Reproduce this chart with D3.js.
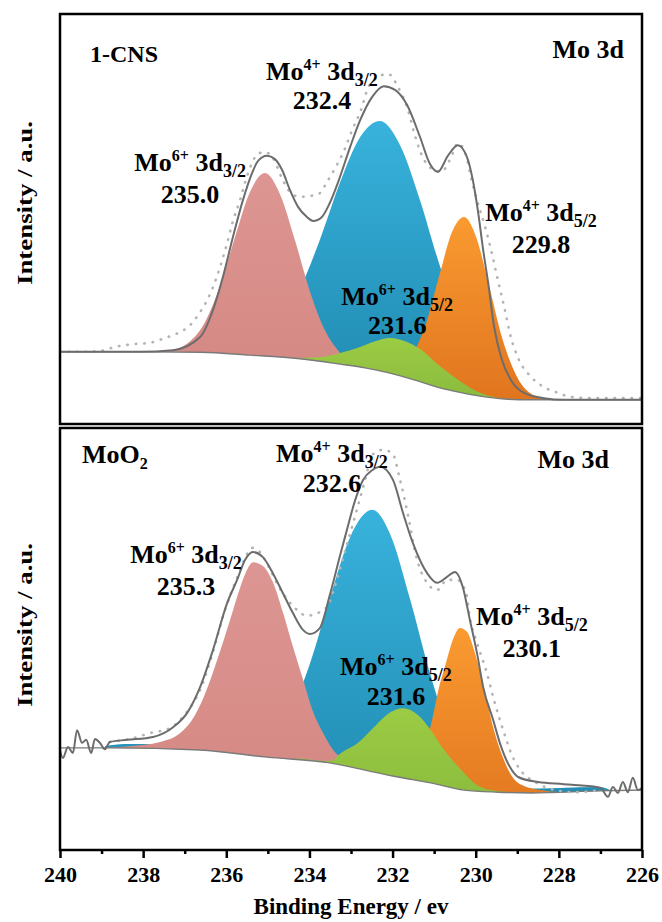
<!DOCTYPE html>
<html>
<head>
<meta charset="utf-8">
<script src="https://cdn.jsdelivr.net/npm/d3@7"></script>
<style>
body{margin:0;background:#fff;}
svg{display:block;font-family:"Liberation Serif","Times New Roman",serif;font-weight:bold;}
</style>
</head>
<body>
<div id="chart"></div>
<script>
/* Mo 3d XPS, two stacked panels (1-CNS on top, MoO2 below).
   Values are [binding energy (eV), intensity (a.u., 0-100 per panel)]. */

// ---- 1-CNS ----
const CNS_BG = [[240.00,17.6],[237.84,17.6],[236.63,17.5],[235.43,16.8],[234.23,15.9],[233.26,14.6],[232.66,13.7],[232.06,12.4],[231.46,10.7],[230.86,8.8],[230.38,7.7],[229.90,6.8],[229.30,6.1],[228.69,5.9],[226.00,5.9]];
const CNS_MO6_32 = [[237.76,17.6],[237.35,18.0],[236.87,20.2],[236.51,24.9],[236.15,33.7],[235.79,45.6],[235.43,56.6],[235.07,61.2],[234.71,56.1],[234.35,44.9],[233.99,32.4],[233.63,22.9],[233.26,17.3],[232.90,14.1]];
const CNS_MO4_32 = [[235.19,20.0],[234.71,24.6],[234.23,32.9],[233.75,44.9],[233.26,59.0],[232.78,70.0],[232.30,73.9],[231.82,68.0],[231.34,54.6],[230.86,38.5],[230.38,24.9],[229.90,15.1],[229.42,9.8],[228.93,7.2],[228.33,6.0]];
const CNS_MO6_52 = [[234.54,16.1],[233.75,16.3],[233.26,17.3],[232.78,18.8],[232.42,20.2],[232.06,21.0],[231.70,20.2],[231.34,18.3],[230.86,14.1],[230.45,11.0],[230.07,8.5],[229.66,6.8],[229.18,6.1]];
const CNS_MO4_52 = [[231.58,15.9],[231.22,23.7],[230.86,36.8],[230.57,46.8],[230.28,50.5],[229.99,45.6],[229.70,34.6],[229.34,20.2],[228.98,11.0],[228.62,7.1],[228.26,6.0]];
const CNS_FIT = [[240.00,17.6],[238.08,17.6],[237.28,18.0],[236.63,21.2],[236.32,27.8],[236.08,35.9],[235.84,45.6],[235.60,54.6],[235.38,61.2],[235.24,64.1],[235.02,65.4],[234.83,64.6],[234.66,62.0],[234.47,57.1],[234.27,52.9],[234.06,50.5],[233.91,49.5],[233.70,50.5],[233.51,53.9],[233.31,59.0],[233.02,67.6],[232.78,74.1],[232.49,79.8],[232.21,82.4],[231.94,81.5],[231.65,77.8],[231.34,70.0],[231.10,63.4],[230.91,61.5],[230.67,65.4],[230.43,68.0],[230.21,65.1],[230.07,59.5],[229.94,51.5],[229.82,42.4],[229.70,34.4],[229.56,23.9],[229.39,16.3],[229.15,10.7],[228.84,7.6],[228.36,6.3],[227.88,5.9],[226.00,5.9]];
const CNS_RAW = [[240.00,17.6],[239.52,17.6],[239.04,17.8],[238.68,18.8],[238.20,19.5],[237.84,19.8],[237.47,21.0],[237.16,22.2],[236.87,24.1],[236.63,27.3],[236.46,30.2],[236.32,33.4],[236.15,38.3],[235.98,44.1],[235.84,49.5],[235.67,54.6],[235.53,59.5],[235.38,63.7],[235.24,65.9],[235.07,66.3],[234.88,64.9],[234.64,59.5],[234.47,56.6],[234.23,55.4],[233.99,55.6],[233.75,56.3],[233.58,59.0],[233.38,62.4],[233.14,67.3],[232.98,71.5],[232.76,76.6],[232.59,82.0],[232.42,84.1],[232.11,85.4],[231.87,82.2],[231.63,76.6],[231.48,71.0],[231.32,66.1],[231.08,62.4],[230.83,61.5],[230.59,65.1],[230.43,68.5],[230.23,65.4],[230.11,60.0],[229.97,54.6],[229.78,48.3],[229.63,42.4],[229.49,36.1],[229.32,28.8],[229.15,21.0],[228.98,16.1],[228.67,11.5],[228.36,9.0],[228.02,7.6],[227.71,6.6],[227.25,6.3],[226.00,6.3]];
const CNS_PEAKS = ["235.0","232.4","231.6","229.8"];

// ---- MoO2 ----
const MOO2_BG = [[240.00,24.2],[238.80,24.2],[236.63,23.7],[235.02,22.0],[233.48,20.6],[232.69,19.0],[231.87,17.3],[231.08,15.9],[230.28,14.2],[229.46,13.7],[228.67,13.5],[227.01,14.0],[226.00,14.2]];
const MOO2_MO6_32 = [[238.92,24.2],[238.32,24.6],[237.59,25.6],[237.11,27.7],[236.75,32.0],[236.51,37.0],[236.22,45.0],[235.91,54.5],[235.67,62.1],[235.50,66.4],[235.36,68.2],[235.12,67.3],[234.88,63.5],[234.64,56.4],[234.40,48.3],[234.15,40.3],[233.91,32.7],[233.67,27.7],[233.43,23.7],[233.14,21.3],[232.78,19.4]];
const MOO2_MO4_32 = [[238.92,24.6],[238.44,25.1],[237.96,25.1],[237.35,24.6],[236.63,24.2],[235.43,23.9],[234.95,26.3],[234.47,32.5],[233.99,44.1],[233.51,59.7],[233.02,74.2],[232.49,80.6],[232.06,74.9],[231.58,59.5],[231.10,41.9],[230.62,27.5],[230.14,19.4],[229.66,15.4],[228.93,14.5],[227.97,14.7],[227.01,14.9],[226.77,14.2]];
const MOO2_MO6_52 = [[234.30,21.8],[233.48,21.1],[233.24,23.0],[232.83,25.4],[232.45,29.1],[232.04,32.7],[231.75,33.6],[231.39,32.0],[231.08,28.4],[230.76,23.7],[230.35,19.0],[230.04,15.9],[229.63,14.2],[229.15,13.7]];
const MOO2_MO4_52 = [[231.58,17.8],[231.22,24.9],[231.05,30.8],[230.91,37.4],[230.71,44.5],[230.55,49.8],[230.38,52.6],[230.21,51.7],[230.04,47.4],[229.80,38.4],[229.56,28.4],[229.34,21.8],[229.13,17.5],[228.89,15.4],[228.45,14.2],[227.97,13.7]];
const MOO2_FIT = [[240.00,23.7],[239.93,21.8],[239.81,24.4],[239.69,23.0],[239.59,28.4],[239.47,25.4],[239.37,26.1],[239.25,23.0],[239.16,26.3],[239.04,25.4],[238.92,23.9],[238.80,25.6],[238.39,26.1],[237.76,26.8],[237.28,29.1],[236.94,32.5],[236.63,38.6],[236.32,47.4],[235.98,58.5],[235.74,64.0],[235.55,68.7],[235.36,70.6],[235.12,69.4],[234.88,65.6],[234.64,60.9],[234.40,56.2],[234.15,52.1],[233.99,51.2],[233.75,52.6],[233.51,60.4],[233.26,69.9],[233.10,75.8],[232.90,82.9],[232.71,87.7],[232.49,90.0],[232.30,90.8],[231.99,87.7],[231.75,79.9],[231.51,72.7],[231.17,65.6],[230.93,63.3],[230.69,64.7],[230.50,65.9],[230.31,62.3],[230.14,54.5],[229.97,46.7],[229.82,38.6],[229.58,30.8],[229.42,25.4],[229.18,19.7],[228.98,17.3],[228.50,16.1],[227.88,15.6],[227.06,14.9],[226.99,14.7],[226.82,12.6],[226.70,14.9],[226.58,13.5],[226.46,16.1],[226.34,13.7],[226.22,17.1],[226.10,14.2],[226.00,14.7]];
const MOO2_RAW = [[238.80,25.6],[238.32,26.3],[237.84,27.7],[237.35,28.9],[236.99,32.2],[236.63,37.9],[236.32,46.9],[236.03,56.9],[235.79,63.3],[235.57,68.7],[235.38,71.6],[235.19,70.6],[235.00,67.5],[234.76,62.8],[234.52,59.2],[234.30,56.9],[234.06,55.5],[233.87,55.9],[233.58,57.6],[233.34,64.0],[233.10,72.3],[232.86,80.6],[232.66,87.7],[232.49,93.6],[232.25,94.8],[232.01,94.1],[231.82,87.7],[231.63,79.4],[231.44,69.9],[231.17,63.3],[230.93,61.6],[230.69,64.0],[230.45,64.0],[230.23,60.9],[230.14,55.0],[229.97,49.1],[229.73,41.9],[229.56,35.5],[229.34,28.4],[229.13,22.5],[228.89,18.5],[228.57,16.1],[228.09,14.2],[227.61,13.7],[227.01,14.2]];
const MOO2_PEAKS = ["235.3","232.6","231.6","230.1"];

// peak order: Mo6+ 3d3/2, Mo4+ 3d3/2, Mo6+ 3d5/2, Mo4+ 3d5/2
const PEAK_IONS = ["6+","4+","6+","4+"];
const PEAK_ORBITALS = ["3/2","3/2","5/2","5/2"];
const X_MAJOR = [240,238,236,234,232,230,228,226];
const X_MINOR = [239,237,235,233,231,229,227];

// label anchors [energy, intensity of line 1, intensity of line 2]
const CNS_LABEL_AT = [[236.87,61.7,53.9],[233.70,83.9,76.8],[231.89,29.0,22.0],[228.43,49.5,41.7]];
const MOO2_LABEL_AT = [[236.97,68.0,60.4],[233.46,91.9,84.8],[231.92,41.5,34.4],[228.65,53.3,45.7]];

const W = 662, H = 922, L = 60, R = 642;
const x = d3.scaleLinear().domain([240, 226]).range([L, R]);

const svg = d3.select("#chart").append("svg").attr("width", W).attr("height", H);
const defs = svg.append("defs");
function grad(id, top, bottom) {
  const lg = defs.append("linearGradient").attr("id", id).attr("x1", 0).attr("y1", 0).attr("x2", 0).attr("y2", 1);
  lg.append("stop").attr("offset", "0%").attr("stop-color", top);
  lg.append("stop").attr("offset", "100%").attr("stop-color", bottom);
}
grad("g-blue", "#38b2dc", "#1d86ac");
grad("g-orange", "#fa9a30", "#dd701d");
grad("g-green", "#9ccb44", "#82b53a");
grad("g-pink", "#dd9693", "#d3857f");

const PANELS = [
  { id: "cns", top: 14, bottom: 424, bg: CNS_BG, fit: CNS_FIT, raw: CNS_RAW, peaks: CNS_PEAKS, labelAt: CNS_LABEL_AT,
    comps: [[CNS_MO4_32, "url(#g-blue)"], [CNS_MO6_32, "url(#g-pink)"], [CNS_MO4_52, "url(#g-orange)"], [CNS_MO6_52, "url(#g-green)"]],
    sample: { text: "1-CNS", x: 90, y: 62, size: 24 }, core: { x: 624, y: 58 }, ylabelY: 203 },
  { id: "moo2", top: 428, bottom: 850, bg: MOO2_BG, fit: MOO2_FIT, raw: MOO2_RAW, peaks: MOO2_PEAKS, labelAt: MOO2_LABEL_AT,
    comps: [[MOO2_MO4_32, "url(#g-blue)"], [MOO2_MO6_32, "url(#g-pink)"], [MOO2_MO4_52, "url(#g-orange)"], [MOO2_MO6_52, "url(#g-green)"]],
    sample: { text: "MoO", sub: "2", x: 82, y: 463, size: 26 }, core: { x: 609, y: 468 }, ylabelY: 625 },
];

function peakLabel(g, ion, orb, cx, cy) {
  const t = g.append("text").attr("x", cx).attr("y", cy).attr("text-anchor", "middle").attr("font-size", 26);
  t.append("tspan").text("Mo");
  t.append("tspan").attr("font-size", 16).attr("dy", -10).text(ion);
  t.append("tspan").attr("dy", 10).text(" 3d");
  t.append("tspan").attr("font-size", 18).attr("dy", 6).text(orb);
}

PANELS.forEach(p => {
  const y = d3.scaleLinear().domain([0, 100]).range([p.bottom, p.top]);
  const g = svg.append("g");
  defs.append("clipPath").attr("id", "clip-" + p.id)
    .append("rect").attr("x", L).attr("y", p.top).attr("width", R - L).attr("height", p.bottom - p.top);
  const plot = g.append("g").attr("clip-path", `url(#clip-${p.id})`);

  const area = d3.area().x(d => x(d[0])).y0(y(0)).y1(d => y(d[1])).curve(d3.curveMonotoneX);
  const line = d3.line().x(d => x(d[0])).y(d => y(d[1])).curve(d3.curveMonotoneX);

  // fitted components (filled from the bottom, then masked under the background)
  p.comps.forEach(([data, fill]) => plot.append("path").datum(data).attr("d", area).attr("fill", fill));
  plot.append("path").datum(p.bg).attr("d", area).attr("fill", "#fff");
  plot.append("path").datum(p.bg).attr("d", line).attr("fill", "none").attr("stroke", "#7a7a7a").attr("stroke-width", 1.4);

  // raw data (dotted) and envelope
  plot.append("path").datum(p.raw).attr("d", line).attr("fill", "none")
    .attr("stroke", "#b4b4b4").attr("stroke-width", 2.6).attr("stroke-linecap", "round").attr("stroke-dasharray", "0.5 8");
  plot.append("path").datum(p.fit).attr("d", line).attr("fill", "none")
    .attr("stroke", "#6c6c6c").attr("stroke-width", 2);

  // peak labels
  p.labelAt.forEach((a, i) => {
    peakLabel(g, PEAK_IONS[i], PEAK_ORBITALS[i], x(a[0]), y(a[1]));
    g.append("text").attr("x", x(a[0])).attr("y", y(a[2])).attr("text-anchor", "middle")
      .attr("font-size", 26).text(p.peaks[i]);
  });

  // sample name and core level
  const s = g.append("text").attr("x", p.sample.x).attr("y", p.sample.y).attr("font-size", p.sample.size);
  s.append("tspan").text(p.sample.text);
  if (p.sample.sub) s.append("tspan").attr("font-size", 16).attr("dy", 6).text(p.sample.sub);
  g.append("text").attr("x", p.core.x).attr("y", p.core.y).attr("text-anchor", "end").attr("font-size", 26).text("Mo 3d");

  // y label
  g.append("text").attr("transform", `translate(32,${p.ylabelY}) rotate(-90)`).attr("text-anchor", "middle")
    .attr("font-size", 20).attr("textLength", 164).attr("lengthAdjust", "spacingAndGlyphs").text("Intensity / a.u.");

  g.append("rect").attr("x", L).attr("y", p.top).attr("width", R - L).attr("height", p.bottom - p.top)
    .attr("fill", "none").attr("stroke", "#000").attr("stroke-width", 2.5);
});

// x axis on the lower panel
const ax = svg.append("g").attr("transform", "translate(0,850)");
ax.call(d3.axisBottom(x).tickValues(X_MAJOR).tickSize(8).tickPadding(8).tickFormat(d3.format("d")));
ax.append("g").call(d3.axisBottom(x).tickValues(X_MINOR).tickSize(4).tickFormat(""));
ax.selectAll(".domain").remove();
ax.selectAll(".tick line").attr("stroke", "#000").attr("stroke-width", 2.5);
ax.selectAll(".tick text").attr("fill", "#000").attr("font-size", 22)
  .attr("font-family", "'Liberation Serif','Times New Roman',serif").attr("font-weight", "bold");

svg.append("text").attr("x", (L + R) / 2).attr("y", 914).attr("text-anchor", "middle")
  .attr("font-size", 23).text("Binding Energy / ev");
</script>
</body>
</html>
